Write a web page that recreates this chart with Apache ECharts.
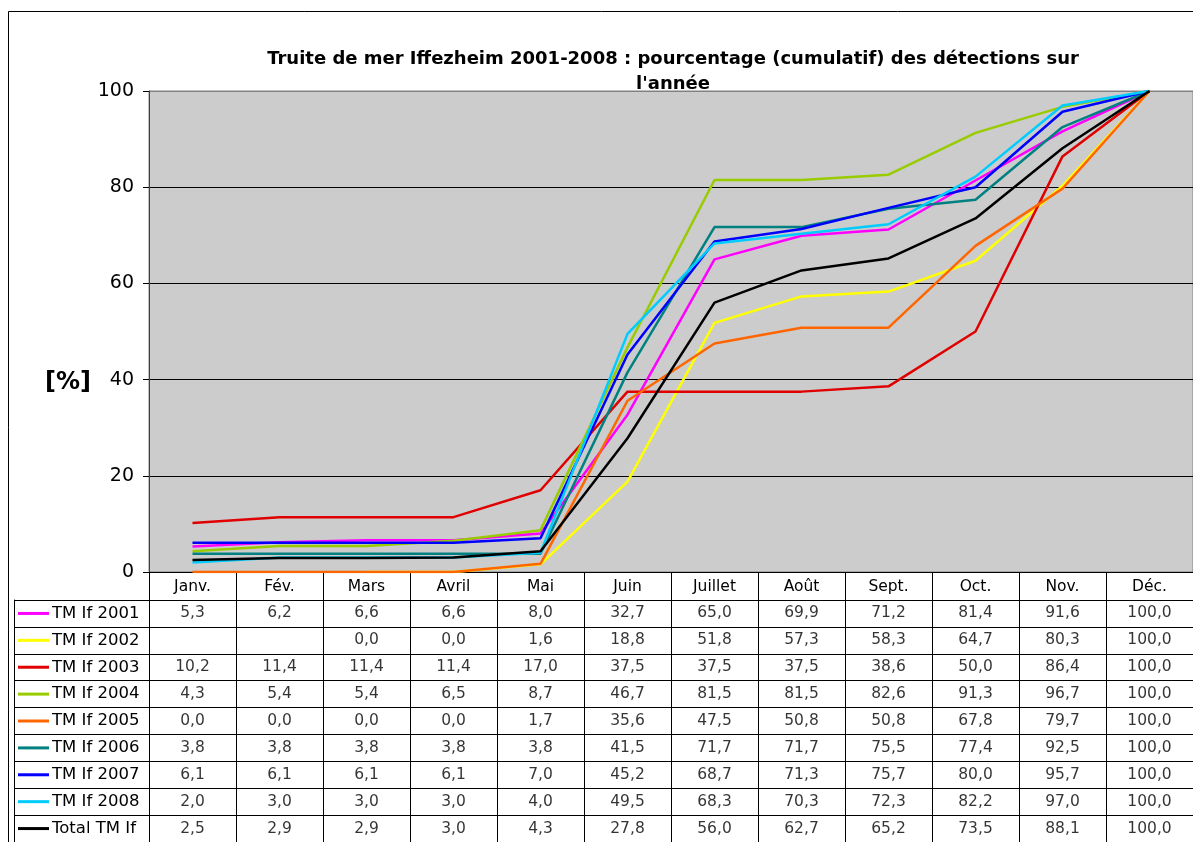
<!DOCTYPE html>
<html><head><meta charset="utf-8">
<script src="https://cdn.jsdelivr.net/npm/echarts@6/dist/echarts.min.js"></script>
<style>html,body{margin:0;padding:0;background:#fff}#c{width:1193px;height:842px}</style>
</head><body><div id="c"></div>
<script>
// ---- data ----
const months = ['Janv.','Fév.','Mars','Avril','Mai','Juin','Juillet','Août','Sept.','Oct.','Nov.','Déc.'];
const yTicks = [0, 20, 40, 60, 80, 100];
const seriesNames = ['TM If 2001','TM If 2002','TM If 2003','TM If 2004','TM If 2005','TM If 2006','TM If 2007','TM If 2008','Total TM If'];
const tm2001 = [5.3, 6.2, 6.6, 6.6, 8.0, 32.7, 65.0, 69.9, 71.2, 81.4, 91.6, 100.0];
const tm2002 = [null, null, 0.0, 0.0, 1.6, 18.8, 51.8, 57.3, 58.3, 64.7, 80.3, 100.0];
const tm2003 = [10.2, 11.4, 11.4, 11.4, 17.0, 37.5, 37.5, 37.5, 38.6, 50.0, 86.4, 100.0];
const tm2004 = [4.3, 5.4, 5.4, 6.5, 8.7, 46.7, 81.5, 81.5, 82.6, 91.3, 96.7, 100.0];
const tm2005 = [0.0, 0.0, 0.0, 0.0, 1.7, 35.6, 47.5, 50.8, 50.8, 67.8, 79.7, 100.0];
const tm2006 = [3.8, 3.8, 3.8, 3.8, 3.8, 41.5, 71.7, 71.7, 75.5, 77.4, 92.5, 100.0];
const tm2007 = [6.1, 6.1, 6.1, 6.1, 7.0, 45.2, 68.7, 71.3, 75.7, 80.0, 95.7, 100.0];
const tm2008 = [2.0, 3.0, 3.0, 3.0, 4.0, 49.5, 68.3, 70.3, 72.3, 82.2, 97.0, 100.0];
const tmTotal = [2.5, 2.9, 2.9, 3.0, 4.3, 27.8, 56.0, 62.7, 65.2, 73.5, 88.1, 100.0];
const titleText = "Truite de mer Iffezheim 2001-2008 : pourcentage (cumulatif) des détections sur\nl'année";
const yName = '[%]';

// ---- styles ----
const seriesColors = ['#FF00FF','#FFFF00','#E00000','#99CC00','#FF6600','#008080','#0000FF','#00CCFF','#000000'];
const FONT = 'DejaVu Sans';
const allValues = [tm2001, tm2002, tm2003, tm2004, tm2005, tm2006, tm2007, tm2008, tmTotal];

const lineSeries = seriesNames.map((name, i) => ({
  name, type: 'line', xAxisIndex: 0, yAxisIndex: 0,
  data: allValues[i], symbol: 'none', connectNulls: false,
  lineStyle: { color: seriesColors[i], width: 2.5 }, itemStyle: { color: seriesColors[i] },
  z: 3
}));

const cellData = [];
allValues.forEach((row, r) => row.forEach((v, m) => { if (v !== null) cellData.push([m, r, v]); }));

const rich = { n: { fontFamily: FONT, fontSize: 16.5, color: '#000', padding: [0, 0, 0, 3] } };
seriesColors.forEach((c, i) => { rich['l' + i] = { width: 31, height: 3, backgroundColor: c, verticalAlign: 'middle' }; });

const option = {
  animation: false,
  backgroundColor: '#fff',
  textStyle: { fontFamily: FONT },
  title: [
    { text: titleText, left: 668, top: 42, textAlign: 'center',
      textStyle: { fontFamily: FONT, fontSize: 18, fontWeight: 'bold', color: '#000', lineHeight: 25 } },
    { text: yName, left: 40, top: 366,
      textStyle: { fontFamily: FONT, fontSize: 24, fontWeight: 'bold', color: '#000' } }
  ],
  graphic: [{ type: 'rect', shape: { x: 8.5, y: 11.5, width: 1300, height: 900 },
    style: { fill: 'none', stroke: '#000', lineWidth: 1 }, z: -10, silent: true }],
  grid: [
    { left: 149, top: 91, width: 1055, height: 481, show: true, backgroundColor: '#CCCCCC', borderColor: '#808080', borderWidth: 1 },
    { left: 149, top: 600, width: 1055, height: 243 },
    { left: 14, top: 600, width: 135, height: 243 }
  ],
  xAxis: [
    { gridIndex: 0, type: 'category', data: months, boundaryGap: true,
      axisLine: { lineStyle: { color: '#000', width: 1 } },
      axisTick: { show: true, length: 28, lineStyle: { color: '#000' } },
      axisLabel: { margin: 7, fontFamily: FONT, fontSize: 15.5, color: '#000' } },
    { gridIndex: 1, type: 'category', data: months, boundaryGap: true,
      axisLine: { show: false }, axisTick: { show: false }, axisLabel: { show: false },
      splitLine: { show: true, lineStyle: { color: '#000', width: 1 } } },
    { gridIndex: 2, type: 'value', show: false }
  ],
  yAxis: [
    { gridIndex: 0, type: 'value', min: yTicks[0], max: yTicks[yTicks.length - 1], interval: 20,
      axisLine: { show: true, lineStyle: { color: '#404040' } },
      axisTick: { show: true, length: 6, lineStyle: { color: '#000' } },
      axisLabel: { margin: 15, fontFamily: FONT, fontSize: 19, color: '#000' },
      splitLine: { show: true, lineStyle: { color: ['#000','#000','#000','#000','#000','#808080'], width: 1 } } },
    { gridIndex: 1, type: 'category', data: seriesNames, inverse: true,
      axisLine: { show: true, lineStyle: { color: '#000' } }, axisTick: { show: false }, axisLabel: { show: false },
      splitLine: { show: true, lineStyle: { color: '#000', width: 1 } } },
    { gridIndex: 2, type: 'category', data: seriesNames, inverse: true,
      axisLine: { show: true, lineStyle: { color: '#000' } }, axisTick: { show: false },
      axisLabel: { inside: true, margin: 4, formatter: (v, i) => '{l' + i + '|}{n|' + v + '}', rich },
      splitLine: { show: true, lineStyle: { color: '#000', width: 1 } } }
  ],
  series: lineSeries.concat([{
    type: 'scatter', xAxisIndex: 1, yAxisIndex: 1, data: cellData, symbolSize: 1,
    itemStyle: { color: 'rgba(0,0,0,0)' },
    label: { show: true, position: 'inside', fontFamily: FONT, fontSize: 15.5, color: '#000',
      formatter: p => p.value[2].toFixed(1).replace('.', ',') }
  }])
};
echarts.init(document.getElementById('c')).setOption(option);
</script></body></html>
